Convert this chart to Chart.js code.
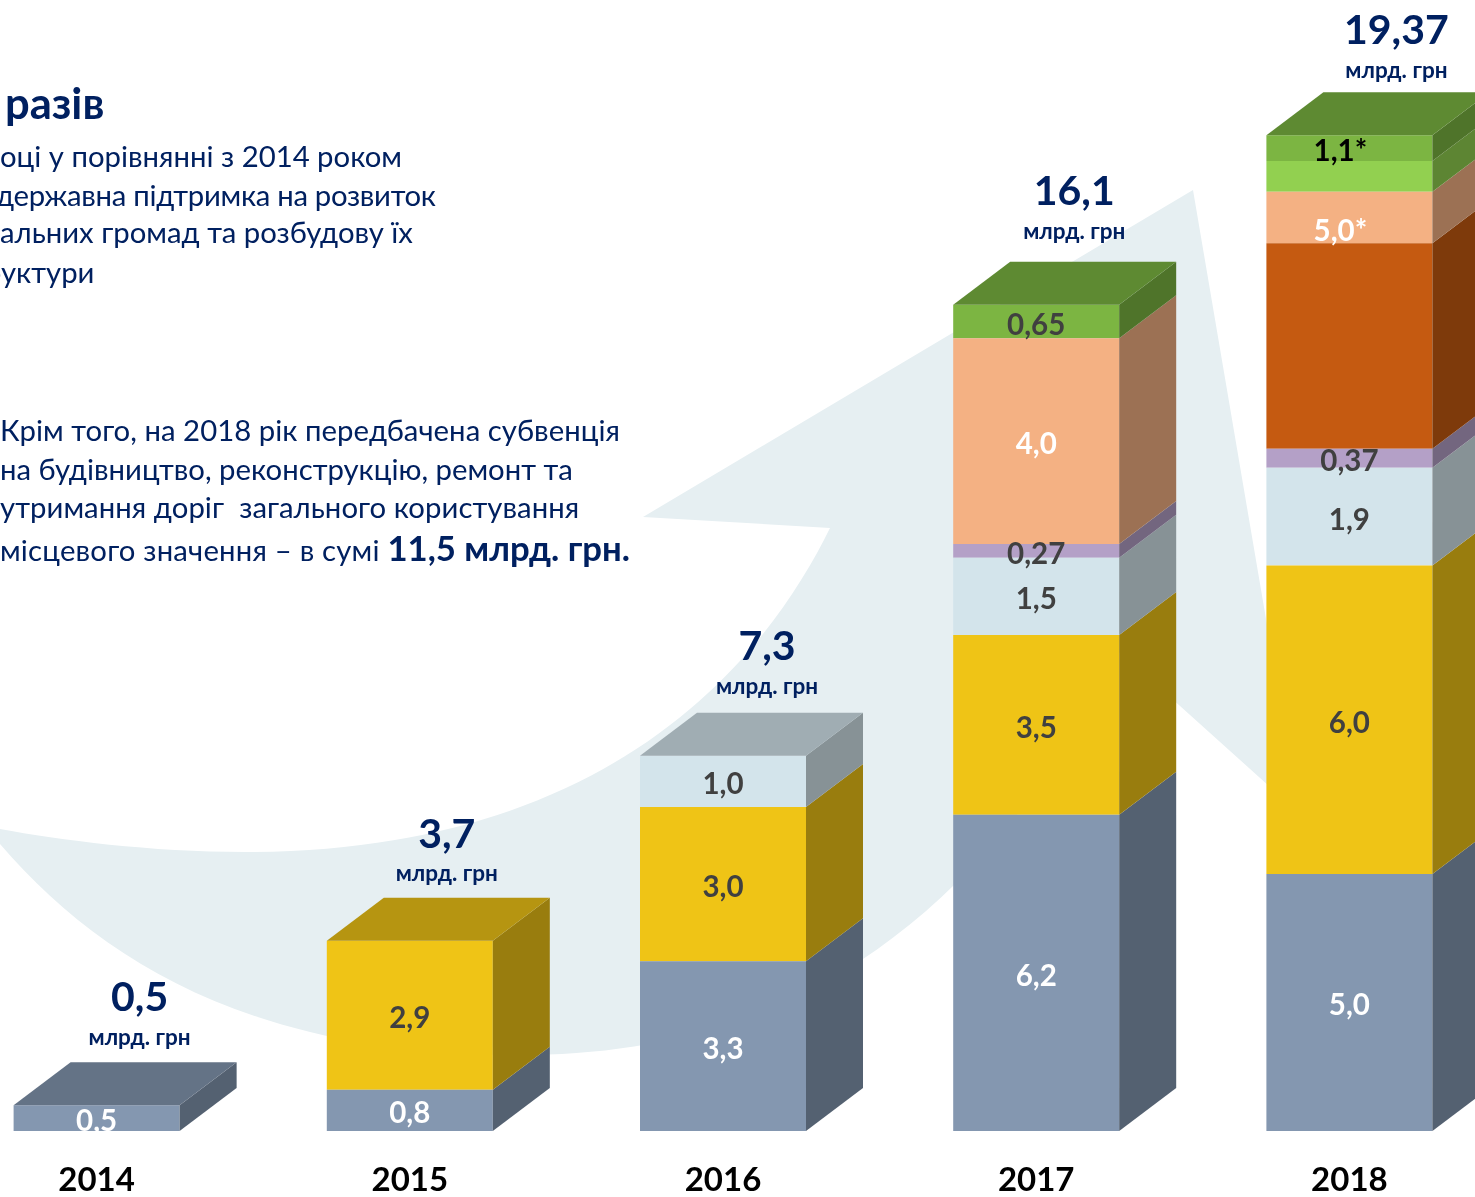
<!DOCTYPE html>
<html lang="uk">
<head>
<meta charset="utf-8">
<title>Державна підтримка</title>
<script src="https://cdn.jsdelivr.net/npm/chart.js@4"></script>
<style>
  html, body { margin: 0; padding: 0; background: #fff; }
  body { position: relative; width: 1475px; height: 1197px; overflow: hidden; font-family: Lato, "Noto Sans", sans-serif; color: #002060; }
  #arrow { position: absolute; left: 0; top: 0; }
  #chart { position: absolute; left: -60px; top: 0; }
  .ln { position: absolute; height: 40px; line-height: 40px; font-size: 29.3px; white-space: nowrap; }
  .ln b { font-size: 34.7px; letter-spacing: 0; }
  .head { font-size: 43.5px; font-weight: 700; }
</style>
</head>
<body>
<svg id="arrow" width="1475" height="1197">
  <path fill="#e6eff2" d="M830,528 C770,650 620,852 245,852 C150,852 60,840 0,829 L0,844 C100,960 250,1055 520,1055 C720,1055 950,985 1120,652 L1299,813 L1193,190 L643,517 Z"/>
</svg>
<canvas id="chart" width="1566" height="1197"></canvas>

<div class="ln head" style="left:5px;top:82px">разів</div>
<div class="ln" style="left:0;top:136px">оці у порівнянні з 2014 роком</div>
<div class="ln" style="left:-4px;top:175px;letter-spacing:-0.3px">державна підтримка на розвиток</div>
<div class="ln" style="left:0;top:212px">альних громад та розбудову їх</div>
<div class="ln" style="left:-15px;top:252px">руктури</div>
<div class="ln" style="left:0;top:410px;letter-spacing:0.04px">Крім того, на 2018 рік передбачена субвенція</div>
<div class="ln" style="left:0;top:449px">на будівництво, реконструкцію, ремонт та</div>
<div class="ln" style="left:0;top:487px;letter-spacing:0.05px">утримання доріг&nbsp; загального користування</div>
<div class="ln" style="left:0;top:528px;letter-spacing:0.2px">місцевого значення – в сумі <b>11,5 млрд. грн.</b></div>

<script>
const years = ["2014", "2015", "2016", "2017", "2018"];

// segments, bottom to top
const budget = [0.5, 0.8, 3.3, 6.15, 5.0];
const roads = [0, 2.9, 3.0, 3.5, 6.0];
const lightBlue = [0, 0, 1.0, 1.5, 1.9];
const purple = [0, 0, 0, 0.27, 0.37];
const darkOrange = [0, 0, 0, 0, 4.0];
const lightOrange = [0, 0, 0, 4.0, 1.0];
const lightGreen = [0, 0, 0, 0, 0.6];
const green = [0, 0, 0, 0.65, 0.5];

// what is printed on each segment
const budgetLabels = ["0,5", "0,8", "3,3", "6,2", "5,0"];
const roadsLabels = [null, "2,9", "3,0", "3,5", "6,0"];
const lightBlueLabels = [null, null, "1,0", "1,5", "1,9"];
const purpleLabels = [null, null, null, "0,27", "0,37"];
const lightOrangeLabels = [null, null, null, "4,0", "5,0*"];
const greenLabels = [null, null, null, "0,65", "1,1*"];
const noLabels = [null, null, null, null, null];

const totals = ["0,5", "3,7", "7,3", "16,1", "19,37"];
const unit = "млрд. грн";

// hand tuned placement of the totals above each box
const totalDx = [43, 37, 44, 38, 47];
const totalDy = [65, 63, 66, 70, 61];
const unitDy = [25, 24, 26, 30, 21];

const depthX = 57;
const depthY = 43;
const dark = "#404040";

const series = [
  { data: budget, color: [132, 151, 176], labels: budgetLabels, text: "#fff" },
  { data: roads, color: [239, 196, 22], labels: roadsLabels, text: dark },
  { data: lightBlue, color: [211, 228, 235], labels: lightBlueLabels, text: dark },
  { data: purple, color: [180, 160, 199], labels: purpleLabels, text: dark },
  { data: darkOrange, color: [197, 90, 17], labels: noLabels, text: "#fff" },
  { data: lightOrange, color: [244, 177, 131], labels: lightOrangeLabels, text: "#fff" },
  { data: lightGreen, color: [146, 208, 80], labels: noLabels, text: dark },
  { data: green, color: [124, 181, 66], labels: greenLabels, text: dark },
];

const shade = (c, k) => `rgb(${c.map((v) => Math.round(v * k)).join(",")})`;

// side and top faces of the boxes, taken from the bars chart.js has laid out
const boxFaces = {
  id: "boxFaces",
  afterDatasetsDraw(chart) {
    const { ctx } = chart;
    ctx.save();
    chart.data.datasets.forEach((ds, d) => {
      const meta = chart.getDatasetMeta(d);
      meta.data.forEach((bar, i) => {
        if (!series[d].data[i]) return;
        const right = bar.x + bar.width / 2;
        const left = bar.x - bar.width / 2;
        ctx.fillStyle = shade(series[d].color, 0.64);
        ctx.beginPath();
        ctx.moveTo(right, bar.y);
        ctx.lineTo(right + depthX, bar.y - depthY);
        ctx.lineTo(right + depthX, bar.base - depthY);
        ctx.lineTo(right, bar.base);
        ctx.closePath();
        ctx.fill();
        const isTop = !series.slice(d + 1).some((s) => s.data[i]);
        if (isTop) {
          ctx.fillStyle = shade(series[d].color, 0.76);
          ctx.beginPath();
          ctx.moveTo(left, bar.y);
          ctx.lineTo(left + depthX, bar.y - depthY);
          ctx.lineTo(right + depthX, bar.y - depthY);
          ctx.lineTo(right, bar.y);
          ctx.closePath();
          ctx.fill();
        }
      });
    });
    ctx.restore();
  },
};

const boxLabels = {
  id: "boxLabels",
  afterDraw(chart) {
    const { ctx } = chart;
    ctx.save();
    ctx.textAlign = "center";
    ctx.textBaseline = "middle";
    ctx.font = "700 29.5px Lato, 'Noto Sans', sans-serif";
    chart.data.datasets.forEach((ds, d) => {
      chart.getDatasetMeta(d).data.forEach((bar, i) => {
        const txt = series[d].labels[i];
        if (!txt) return;
        let nudge = 3.5;
        let shift = 0;
        // the starred labels are not centred on their segment
        if (txt === "5,0*") { nudge = 14; shift = -9; }
        if (txt === "1,1*") { nudge = 3; shift = -9; }
        ctx.fillStyle = txt === "1,1*" ? "#000" : series[d].text;
        ctx.fillText(txt, bar.x + shift, (bar.y + bar.base) / 2 + nudge);
      });
    });

    // totals sit above the back edge of the top face
    years.forEach((y, i) => {
      let top = null;
      chart.data.datasets.forEach((ds, d) => {
        if (series[d].data[i]) top = chart.getDatasetMeta(d).data[i];
      });
      const back = top.y - depthY;
      ctx.fillStyle = "#002060";
      ctx.font = "700 41px Lato, 'Noto Sans', sans-serif";
      ctx.fillText(totals[i], top.x + totalDx[i], back - totalDy[i]);
      ctx.font = "700 22.5px Lato, 'Noto Sans', sans-serif";
      ctx.fillText(unit, top.x + totalDx[i], back - unitDy[i]);
    });
    ctx.restore();
  },
};

new Chart(document.getElementById("chart"), {
  type: "bar",
  data: {
    labels: years,
    datasets: series.map((s) => ({
      data: s.data,
      backgroundColor: shade(s.color, 1),
      borderWidth: 0,
      categoryPercentage: 1,
      barPercentage: 0.53,
    })),
  },
  options: {
    responsive: false,
    animation: false,
    layout: { padding: 0 },
    plugins: { legend: { display: false }, tooltip: { enabled: false } },
    scales: {
      x: {
        stacked: true,
        grid: { display: false },
        border: { display: false },
        ticks: { color: "#000", font: { family: "Lato, 'Noto Sans', sans-serif", size: 33, weight: "700" }, padding: 22, maxRotation: 0 },
        afterFit(scale) { scale.height = 66; },
      },
      y: { stacked: true, display: false, min: 0, max: 22 },
    },
  },
  plugins: [boxFaces, boxLabels],
});
</script>
</body>
</html>
